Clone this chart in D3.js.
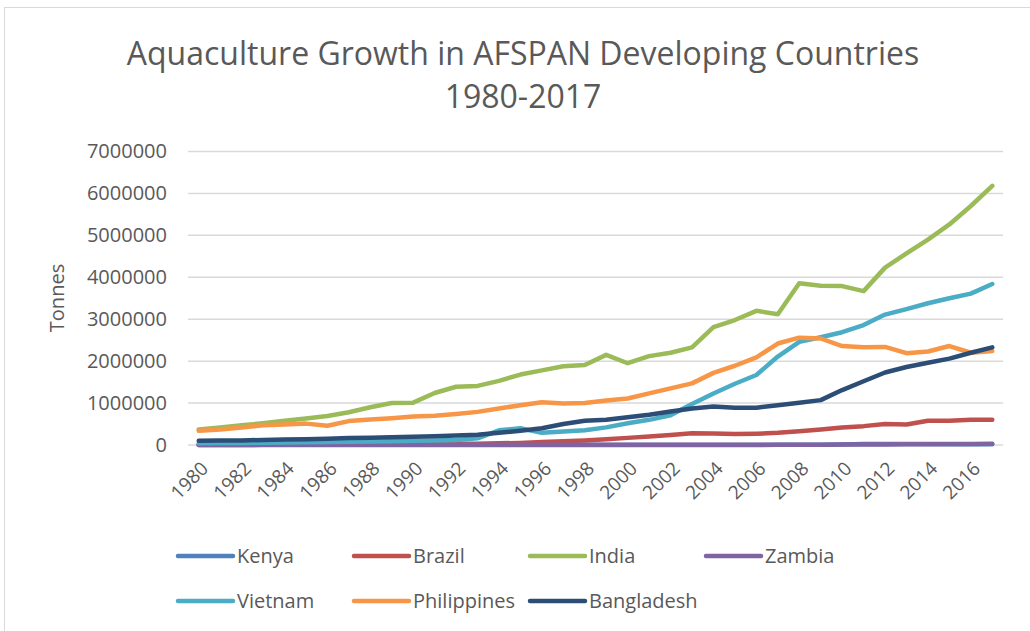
<!DOCTYPE html>
<html>
<head>
<meta charset="utf-8">
<script src="https://cdn.jsdelivr.net/npm/d3@7"></script>
<style>
  body { margin: 0; background: #fff; }
  svg text { font-family: "Open Sans", "Noto Sans", sans-serif; fill: #595959; }
</style>
</head>
<body>
<div id="chart"></div>
<script>
// years on the category axis
const years = d3.range(1980, 2018);

// series names and colours (legend order = draw order)
const countries = ["Kenya", "Brazil", "India", "Zambia", "Vietnam", "Philippines", "Bangladesh"];
const colors = ["#4f81bd", "#c0504d", "#9bbb59", "#8064a2", "#4bacc6", "#f79646", "#2c4d75"];

// tonnes per year
const kenya = [1000, 1000, 1000, 1000, 1000, 1000, 1000, 1000, 1000, 1000,
  1000, 1000, 1000, 1000, 1000, 1000, 1000, 1000, 1000, 1000,
  1000, 1000, 1000, 1000, 1000, 1000, 1000, 4000, 4000, 5000,
  12000, 22000, 21000, 23000, 24000, 18000, 15000, 15000];
const brazil = [10000, 11000, 12000, 13000, 15000, 17000, 18000, 19000, 20000, 21000,
  22000, 24000, 27000, 30000, 40000, 50000, 70000, 90000, 110000, 140000,
  170000, 200000, 240000, 280000, 275000, 260000, 270000, 290000, 330000, 370000,
  420000, 450000, 500000, 490000, 580000, 580000, 600000, 605000];
const india = [370000, 420000, 470000, 520000, 580000, 630000, 690000, 780000, 900000, 1000000,
  1010000, 1240000, 1390000, 1410000, 1530000, 1680000, 1780000, 1880000, 1910000, 2150000,
  1950000, 2120000, 2200000, 2330000, 2810000, 2980000, 3200000, 3120000, 3860000, 3800000,
  3790000, 3670000, 4230000, 4570000, 4900000, 5260000, 5700000, 6180000];
const zambia = [2000, 2000, 2000, 3000, 3000, 3000, 3000, 4000, 4000, 4000,
  4000, 4000, 4000, 4000, 4000, 4000, 4000, 4000, 4000, 4000,
  4000, 4000, 5000, 5000, 5000, 5000, 5000, 5000, 6000, 8000,
  10000, 12000, 12000, 20000, 20000, 21000, 24000, 31000];
const vietnam = [40000, 45000, 50000, 55000, 60000, 65000, 70000, 75000, 85000, 90000,
  100000, 110000, 120000, 160000, 350000, 400000, 290000, 320000, 350000, 420000,
  520000, 600000, 710000, 980000, 1230000, 1460000, 1670000, 2110000, 2460000, 2570000,
  2690000, 2860000, 3110000, 3240000, 3380000, 3500000, 3610000, 3840000];
const philippines = [340000, 370000, 420000, 470000, 490000, 510000, 460000, 570000, 610000, 640000,
  680000, 700000, 740000, 790000, 870000, 950000, 1020000, 990000, 1000000, 1060000,
  1110000, 1230000, 1350000, 1470000, 1720000, 1890000, 2090000, 2420000, 2560000, 2540000,
  2360000, 2330000, 2340000, 2190000, 2230000, 2360000, 2200000, 2240000];
const bangladesh = [100000, 105000, 110000, 120000, 130000, 140000, 150000, 165000, 175000, 185000,
  195000, 210000, 225000, 245000, 290000, 340000, 400000, 500000, 580000, 600000,
  660000, 720000, 800000, 870000, 920000, 890000, 890000, 950000, 1010000, 1070000,
  1310000, 1520000, 1730000, 1860000, 1960000, 2060000, 2200000, 2330000];

const seriesValues = [kenya, brazil, india, zambia, vietnam, philippines, bangladesh];

// y-axis tick values
const yTicks = [0, 1000000, 2000000, 3000000, 4000000, 5000000, 6000000, 7000000];

const width = 1030, height = 631;
const svg = d3.select("#chart").append("svg")
  .attr("width", width)
  .attr("height", height);

// chart area border (only top/left edges fall inside the window)
svg.append("rect")
  .attr("x", 4.5).attr("y", 7.5)
  .attr("width", 1040).attr("height", 640)
  .attr("fill", "none")
  .attr("stroke", "#d9d9d9")
  .attr("stroke-width", 1);

// title
svg.append("text")
  .attr("x", 523).attr("y", 65)
  .attr("text-anchor", "middle")
  .style("font-size", "32px")
  .text("Aquaculture Growth in AFSPAN Developing Countries");
svg.append("text")
  .attr("x", 523).attr("y", 108)
  .attr("text-anchor", "middle")
  .style("font-size", "32px")
  .text("1980-2017");

const x = d3.scalePoint().domain(years).range([188, 1003]).padding(0.5);
const y = d3.scaleLinear().domain([0, 7000000]).range([445, 151.5]);

// gridlines + y labels
const yAxis = d3.axisLeft(y).tickValues(yTicks).tickSize(0).tickPadding(21)
  .tickFormat(d3.format("d"));
const yg = svg.append("g").attr("transform", "translate(188,0)").call(yAxis);
yg.select(".domain").remove();
yg.selectAll("text").style("font-size", "20px").attr("fill", "#595959");

svg.append("g").selectAll("line")
  .data(yTicks)
  .join("line")
  .attr("x1", 188).attr("x2", 1003)
  .attr("y1", d => y(d)).attr("y2", d => y(d))
  .attr("stroke", "#d9d9d9")
  .attr("stroke-width", 1.5);

// y-axis title
svg.append("text")
  .attr("transform", "translate(64,298) rotate(-90)")
  .attr("text-anchor", "middle")
  .style("font-size", "20px")
  .text("Tonnes");

// x labels, every other year, rotated
svg.append("g").selectAll("text")
  .data(years.filter(d => d % 2 === 0))
  .join("text")
  .attr("transform", d => `translate(${x(d) + 6},${465}) rotate(-45)`)
  .attr("text-anchor", "end")
  .attr("dy", "0.35em")
  .style("font-size", "19px")
  .text(d => d);

// lines
const line = d3.line()
  .x((d, i) => x(years[i]))
  .y(d => y(d));

svg.append("g").selectAll("path")
  .data(seriesValues)
  .join("path")
  .attr("d", d => line(d))
  .attr("fill", "none")
  .attr("stroke", (d, i) => colors[i])
  .attr("stroke-width", 4.5)
  .attr("stroke-linejoin", "round")
  .attr("stroke-linecap", "round");

// legend, two rows of four
const legend = svg.append("g");
const item = legend.selectAll("g")
  .data(countries)
  .join("g")
  .attr("transform", (d, i) => `translate(${178 + (i % 4) * 176},${556 + Math.floor(i / 4) * 45})`);

item.append("line")
  .attr("x1", 0).attr("x2", 55)
  .attr("stroke", (d, i) => colors[i])
  .attr("stroke-width", 4.5)
  .attr("stroke-linecap", "round");

item.append("text")
  .attr("x", 59)
  .attr("dy", "0.35em")
  .style("font-size", "20px")
  .text(d => d);
</script>
</body>
</html>
